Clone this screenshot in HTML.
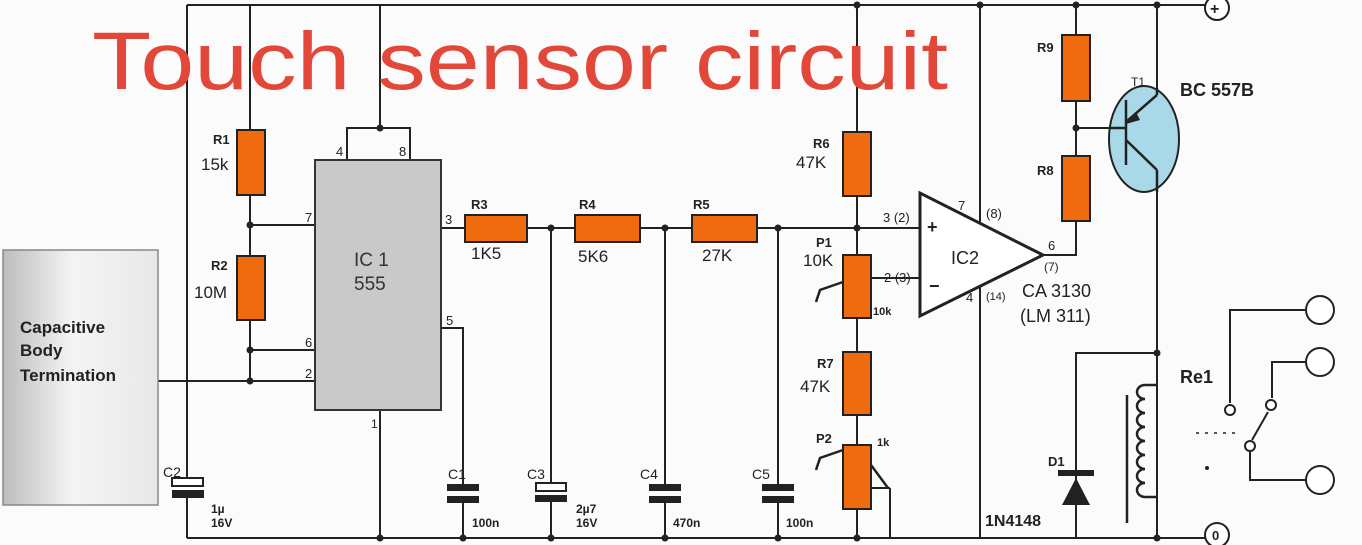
<!DOCTYPE html>
<html><head><meta charset="utf-8"><style>
html,body{margin:0;padding:0;background:#fbfbfb;}
svg{display:block;font-family:"Liberation Sans",Arial,sans-serif;}
</style></head><body>
<svg width="1362" height="545" viewBox="0 0 1362 545" xmlns="http://www.w3.org/2000/svg">
<defs>
<linearGradient id="g" x1="0" x2="1" y1="0" y2="0">
<stop offset="0" stop-color="#bdbdbd"/><stop offset="0.45" stop-color="#f4f4f4"/><stop offset="1" stop-color="#e8e8e8"/>
</linearGradient>
</defs>
<rect width="1362" height="545" fill="#fbfbfb"/>
<g stroke="#222" stroke-width="2" fill="none">
<!-- rails -->
<line x1="187" y1="5" x2="1205" y2="5"/>
<line x1="187" y1="538" x2="1205" y2="538"/>
<circle cx="1217" cy="8" r="12" fill="#fff"/>
<circle cx="1217" cy="535" r="12" fill="#fff"/>
<!-- left vertical -->
<line x1="187" y1="5" x2="187" y2="480"/>
<line x1="187" y1="497" x2="187" y2="538"/>
<!-- R1/R2 line -->
<line x1="250" y1="5" x2="250" y2="381"/>
<line x1="158" y1="381" x2="315" y2="381"/>
<line x1="250" y1="225" x2="315" y2="225"/>
<line x1="250" y1="350" x2="315" y2="350"/>
<!-- IC1 pins -->
<line x1="380" y1="5" x2="380" y2="128"/>
<polyline points="347,160 347,128 410,128 410,160"/>
<line x1="380" y1="410" x2="380" y2="538"/>
<polyline points="441,328 463,328 463,487"/>
<line x1="463" y1="502" x2="463" y2="538"/>
<!-- signal line -->
<line x1="441" y1="228" x2="920" y2="228"/>
<line x1="551" y1="228" x2="551" y2="484"/>
<line x1="551" y1="502" x2="551" y2="538"/>
<line x1="665" y1="228" x2="665" y2="487"/>
<line x1="665" y1="502" x2="665" y2="538"/>
<line x1="778" y1="228" x2="778" y2="487"/>
<line x1="778" y1="502" x2="778" y2="538"/>
<!-- R6 column -->
<line x1="857" y1="5" x2="857" y2="538"/>
<line x1="871" y1="278" x2="920" y2="278"/>
<line x1="871" y1="488" x2="890" y2="488"/><line x1="890" y1="488" x2="890" y2="538"/>
<!-- opamp supply -->
<line x1="980" y1="5" x2="980" y2="538"/>
<!-- output -->
<polyline points="1043,255 1076,255 1076,215"/>
<line x1="1076" y1="5" x2="1076" y2="215"/>
<line x1="1076" y1="128" x2="1110" y2="128"/>
<!-- transistor -->
<line x1="1157" y1="5" x2="1157" y2="538"/>
<polyline points="1076,538 1076,353 1157,353"/>
</g>
<!-- transistor body -->
<ellipse cx="1144" cy="139" rx="35" ry="53" fill="#a9d9e8" stroke="#222" stroke-width="2"/>
<g stroke="#222" stroke-width="2.5" fill="none">
<line x1="1126" y1="100" x2="1126" y2="165"/>
<line x1="1110" y1="128" x2="1126" y2="128"/>
<line x1="1126" y1="122" x2="1157" y2="95"/>
<line x1="1126" y1="140" x2="1157" y2="170"/>
<line x1="1157" y1="95" x2="1157" y2="88"/>
<line x1="1157" y1="170" x2="1157" y2="192"/>
</g>
<polygon points="1126,124 1136,112 1140,120" fill="#222"/>
<!-- capacitive box -->
<rect x="3" y="250" width="155" height="255" fill="url(#g)" stroke="#888" stroke-width="1.5"/>
<!-- IC1 -->
<rect x="315" y="160" width="126" height="250" fill="#c9c9c9" stroke="#333" stroke-width="2"/>
<!-- opamp -->
<polygon points="920,193 920,316 1043,255" fill="#fff" stroke="#222" stroke-width="3"/>
<!-- resistors -->
<g fill="#f06a10" stroke="#222" stroke-width="2">
<rect x="237" y="130" width="28" height="65"/>
<rect x="237" y="256" width="28" height="64"/>
<rect x="465" y="215" width="62" height="27"/>
<rect x="575" y="215" width="65" height="27"/>
<rect x="692" y="215" width="65" height="27"/>
<rect x="843" y="132" width="28" height="64"/>
<rect x="843" y="255" width="28" height="63"/>
<rect x="843" y="352" width="28" height="63"/>
<rect x="843" y="445" width="28" height="64"/>
<rect x="1062" y="35" width="28" height="66"/>
<rect x="1062" y="156" width="28" height="65"/>
</g>
<!-- pot wipers -->
<g stroke="#222" stroke-width="2.5" fill="none">
<polyline points="816,302 820,290 843,282"/>
<polyline points="816,470 820,458 843,450"/>
<line x1="871" y1="465" x2="888" y2="488"/>
</g>
<!-- capacitors -->
<g fill="#222">
<rect x="172" y="490" width="32" height="8"/>
<rect x="447" y="484" width="32" height="7"/><rect x="447" y="496" width="32" height="7"/>
<rect x="535" y="495" width="32" height="7"/>
<rect x="649" y="484" width="32" height="7"/><rect x="649" y="496" width="32" height="7"/>
<rect x="762" y="484" width="32" height="7"/><rect x="762" y="496" width="32" height="7"/>
<rect x="1058" y="470" width="36" height="6"/>
<polygon points="1062,505 1090,505 1076,478"/>
</g>
<g fill="#fff" stroke="#222" stroke-width="2">
<rect x="172" y="478" width="31" height="8"/>
<rect x="536" y="483" width="30" height="8"/>
</g>
<!-- dots -->
<g fill="#222">
<circle cx="250" cy="225" r="3.5"/><circle cx="250" cy="350" r="3.5"/><circle cx="250" cy="381" r="3.5"/>
<circle cx="380" cy="128" r="3.5"/><circle cx="551" cy="228" r="3.5"/><circle cx="665" cy="228" r="3.5"/>
<circle cx="778" cy="228" r="3.5"/><circle cx="857" cy="228" r="3.5"/><circle cx="857" cy="5" r="3.5"/>
<circle cx="980" cy="5" r="3.5"/><circle cx="1076" cy="5" r="3.5"/><circle cx="1157" cy="5" r="3.5"/>
<circle cx="1076" cy="128" r="3.5"/><circle cx="1157" cy="353" r="3.5"/>
<circle cx="380" cy="538" r="3.5"/><circle cx="463" cy="538" r="3.5"/><circle cx="551" cy="538" r="3.5"/>
<circle cx="665" cy="538" r="3.5"/><circle cx="778" cy="538" r="3.5"/><circle cx="857" cy="538" r="3.5"/>
<circle cx="1157" cy="538" r="3.5"/><circle cx="1207" cy="468" r="2"/>
</g>
<!-- coil -->
<g stroke="#222" stroke-width="2.5" fill="none">
<line x1="1127" y1="395" x2="1127" y2="523"/>
<path d="M1157,385 H1145 a8,7 0 0 0 0,14 a8,7 0 0 0 0,14 a8,7 0 0 0 0,14 a8,7 0 0 0 0,14 a8,7 0 0 0 0,14 a8,7 0 0 0 0,14 a8,7 0 0 0 0,14 a8,7 0 0 0 0,14 H1157"/>
</g>
<!-- relay contacts -->
<g stroke="#222" stroke-width="2" fill="none">
<polyline points="1306,310 1230,310 1230,403"/>
<polyline points="1306,362 1272,362 1272,398"/>
<polyline points="1306,480 1250,480 1250,452"/>
<line x1="1252" y1="440" x2="1268" y2="412"/>
<circle cx="1320" cy="310" r="14" fill="#fff"/>
<circle cx="1320" cy="362" r="14" fill="#fff"/>
<circle cx="1320" cy="480" r="14" fill="#fff"/>
<circle cx="1230" cy="410" r="5" fill="#fff"/>
<circle cx="1271" cy="405" r="5" fill="#fff"/>
<circle cx="1250" cy="446" r="5" fill="#fff"/>
<line x1="1196" y1="433" x2="1240" y2="433" stroke-dasharray="3,6" stroke-width="1.5"/>
</g>
<!-- title -->
<text x="92" y="89" font-size="82" fill="#e2483a" textLength="856" lengthAdjust="spacingAndGlyphs">Touch sensor circuit</text>
<!-- labels -->
<g fill="#222" font-size="17">
<text x="20" y="333" font-weight="bold">Capacitive</text>
<text x="20" y="356" font-weight="bold">Body</text>
<text x="20" y="381" font-weight="bold">Termination</text>
<text x="354" y="266" font-size="19" fill="#333">IC 1</text>
<text x="354" y="290" font-size="19" fill="#333">555</text>
<text x="213" y="144" font-size="13" font-weight="bold">R1</text>
<text x="201" y="170">15k</text>
<text x="211" y="270" font-size="13" font-weight="bold">R2</text>
<text x="194" y="298">10M</text>
<text x="471" y="209" font-size="13" font-weight="bold">R3</text>
<text x="471" y="259">1K5</text>
<text x="579" y="209" font-size="13" font-weight="bold">R4</text>
<text x="578" y="262">5K6</text>
<text x="693" y="209" font-size="13" font-weight="bold">R5</text>
<text x="702" y="261">27K</text>
<text x="813" y="148" font-size="13" font-weight="bold">R6</text>
<text x="796" y="168">47K</text>
<text x="816" y="247" font-size="13" font-weight="bold">P1</text>
<text x="803" y="266">10K</text>
<text x="873" y="315" font-size="11" font-weight="bold">10k</text>
<text x="817" y="368" font-size="13" font-weight="bold">R7</text>
<text x="800" y="392">47K</text>
<text x="816" y="443" font-size="13" font-weight="bold">P2</text>
<text x="877" y="446" font-size="11" font-weight="bold">1k</text>
<text x="1037" y="52" font-size="13" font-weight="bold">R9</text>
<text x="1037" y="175" font-size="13" font-weight="bold">R8</text>
<text x="1131" y="86" font-size="12">T1</text>
<text x="1180" y="96" font-size="18" font-weight="bold">BC 557B</text>
<text x="1022" y="297" font-size="18">CA 3130</text>
<text x="1020" y="322" font-size="18">(LM 311)</text>
<text x="951" y="264" font-size="18">IC2</text>
<text x="927" y="233" font-size="18" font-weight="bold">+</text>
<text x="929" y="292" font-size="18" font-weight="bold">−</text>
<text x="883" y="222" font-size="13">3 (2)</text>
<text x="884" y="282" font-size="13">2 (3)</text>
<text x="958" y="210" font-size="13">7</text>
<text x="986" y="218" font-size="13">(8)</text>
<text x="1048" y="250" font-size="13">6</text>
<text x="1044" y="271" font-size="12">(7)</text>
<text x="966" y="302" font-size="13">4</text>
<text x="986" y="300" font-size="11">(14)</text>
<text x="1180" y="383" font-size="18" font-weight="bold">Re1</text>
<text x="1048" y="466" font-size="13" font-weight="bold">D1</text>
<text x="985" y="526" font-size="16" font-weight="bold">1N4148</text>
<text x="336" y="156" font-size="13">4</text>
<text x="399" y="156" font-size="13">8</text>
<text x="305" y="222" font-size="13">7</text>
<text x="305" y="347" font-size="13">6</text>
<text x="305" y="378" font-size="13">2</text>
<text x="445" y="224" font-size="13">3</text>
<text x="446" y="325" font-size="13">5</text>
<text x="371" y="428" font-size="12">1</text>
<text x="163" y="477" font-size="14">C2</text>
<text x="211" y="513" font-size="12" font-weight="bold">1µ</text>
<text x="211" y="527" font-size="12" font-weight="bold">16V</text>
<text x="448" y="479" font-size="14">C1</text>
<text x="472" y="527" font-size="12" font-weight="bold">100n</text>
<text x="527" y="479" font-size="14">C3</text>
<text x="576" y="513" font-size="12" font-weight="bold">2µ7</text>
<text x="576" y="527" font-size="12" font-weight="bold">16V</text>
<text x="640" y="479" font-size="14">C4</text>
<text x="673" y="527" font-size="12" font-weight="bold">470n</text>
<text x="752" y="479" font-size="14">C5</text>
<text x="786" y="527" font-size="12" font-weight="bold">100n</text>
<text x="1210" y="14" font-size="16" font-weight="bold">+</text>
<text x="1212" y="540" font-size="13" font-weight="bold">0</text>
</g>
</svg>
</body></html>
